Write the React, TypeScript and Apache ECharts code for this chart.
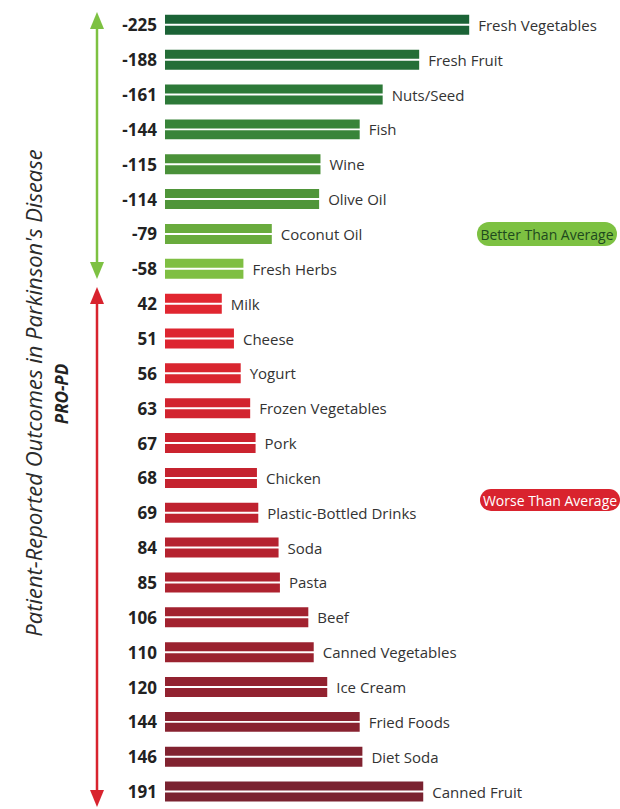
import React, { useEffect, useRef } from "react";
import * as echarts from "echarts";

const categories = [
  "Fresh Vegetables", "Fresh Fruit", "Nuts/Seed", "Fish", "Wine", "Olive Oil",
  "Coconut Oil", "Fresh Herbs", "Milk", "Cheese", "Yogurt", "Frozen Vegetables",
  "Pork", "Chicken", "Plastic-Bottled Drinks", "Soda", "Pasta", "Beef",
  "Canned Vegetables", "Ice Cream", "Fried Foods", "Diet Soda", "Canned Fruit",
];

const values = [
  -225, -188, -161, -144, -115, -114, -79, -58, 42, 51, 56, 63, 67, 68, 69, 84,
  85, 106, 110, 120, 144, 146, 191,
];

const barColors = [
  "#1b6336", "#246e37", "#2d7938", "#388439", "#4a9139", "#4f9539", "#69ab3d", "#7fbf43",
  "#e12630", "#dd2530", "#d9252f", "#d2242f", "#cb232f", "#c5232f", "#bf222f", "#b5222f",
  "#ae222f", "#a2222f", "#9a222f", "#922230", "#882230", "#812230", "#7a2230",
];

const axisTitle = "Patient-Reported Outcomes in Parkinson's Disease";
const axisSubtitle = "PRO-PD";
const betterLabel = "Better Than Average";
const worseLabel = "Worse Than Average";

const FONT = "'Open Sans', 'Noto Sans', sans-serif";

function arrow(x: number, y1: number, y2: number, color: string) {
  const hw = 7;
  const hh = 17;
  return [
    {
      type: "line",
      shape: { x1: x, y1: y1 + hh - 2, x2: x, y2: y2 - hh + 2 },
      style: { stroke: color, lineWidth: 2.5 },
    },
    {
      type: "polygon",
      shape: { points: [[x, y1], [x - hw, y1 + hh], [x + hw, y1 + hh]] },
      style: { fill: color },
    },
    {
      type: "polygon",
      shape: { points: [[x, y2], [x - hw, y2 - hh], [x + hw, y2 - hh]] },
      style: { fill: color },
    },
  ];
}

export default function App() {
  const ref = useRef<HTMLDivElement>(null);
  useEffect(() => {
    if (!ref.current) return;
    const chart = echarts.init(ref.current, null, { renderer: "svg" });
    const barData = values.map((v, i) => ({
      value: Math.abs(v),
      itemStyle: { color: barColors[i] },
    }));
    const option = {
      animation: false,
      backgroundColor: "#ffffff",
      grid: { left: 165, top: 7.4, width: 405.6, height: 808.3, containLabel: false },
      xAxis: {
        type: "value",
        min: 0,
        max: 300,
        show: false,
      },
      yAxis: {
        type: "category",
        inverse: true,
        data: categories,
        axisLine: { show: false },
        axisTick: { show: false },
        splitLine: { show: false },
        axisLabel: {
          formatter: (_v: string, i: number) => String(values[i]),
          fontSize: 17,
          fontWeight: "bold",
          color: "#222222",
          fontFamily: FONT,
          margin: 8,
        },
      },
      series: [
        {
          type: "bar",
          barWidth: 9,
          barGap: "22%",
          data: barData,
          label: {
            show: true,
            position: "right",
            distance: 9,
            offset: [0, 5.5],
            formatter: "{b}",
            fontSize: 15,
            color: "#333333",
            fontFamily: FONT,
          },
        },
        {
          type: "bar",
          barWidth: 9,
          barGap: "22%",
          data: barData,
        },
      ],
      graphic: [
        ...arrow(97, 12, 279, "#7dc142"),
        ...arrow(97, 287, 807, "#d8232e"),
        {
          type: "text",
          x: 33,
          y: 393,
          rotation: Math.PI / 2,
          style: {
            text: axisTitle,
            align: "center",
            verticalAlign: "middle",
            fontSize: 22,
            fontStyle: "italic",
            fontFamily: FONT,
            fill: "#2b2b2b",
          },
        },
        {
          type: "text",
          x: 61,
          y: 394,
          rotation: Math.PI / 2,
          style: {
            text: axisSubtitle,
            align: "center",
            verticalAlign: "middle",
            fontSize: 17,
            fontStyle: "italic",
            fontWeight: "bold",
            fontFamily: FONT,
            fill: "#222222",
          },
        },
        {
          type: "rect",
          shape: { x: 477, y: 222, width: 140, height: 24, r: 12 },
          style: { fill: "#7dc142" },
        },
        {
          type: "text",
          x: 547,
          y: 234,
          style: {
            text: betterLabel,
            align: "center",
            verticalAlign: "middle",
            fontSize: 14,
            fontFamily: FONT,
            fill: "#1e4a1e",
          },
        },
        {
          type: "rect",
          shape: { x: 480, y: 489, width: 140, height: 22, r: 11 },
          style: { fill: "#d9232e" },
        },
        {
          type: "text",
          x: 550,
          y: 500,
          style: {
            text: worseLabel,
            align: "center",
            verticalAlign: "middle",
            fontSize: 14,
            fontFamily: FONT,
            fill: "#ffffff",
          },
        },
      ],
    };
    chart.setOption(option as any);
    return () => chart.dispose();
  }, []);
  return (
    <div
      ref={ref}
      style={{ position: "absolute", left: 0, top: 0, width: 620, height: 809 }}
    />
  );
}
